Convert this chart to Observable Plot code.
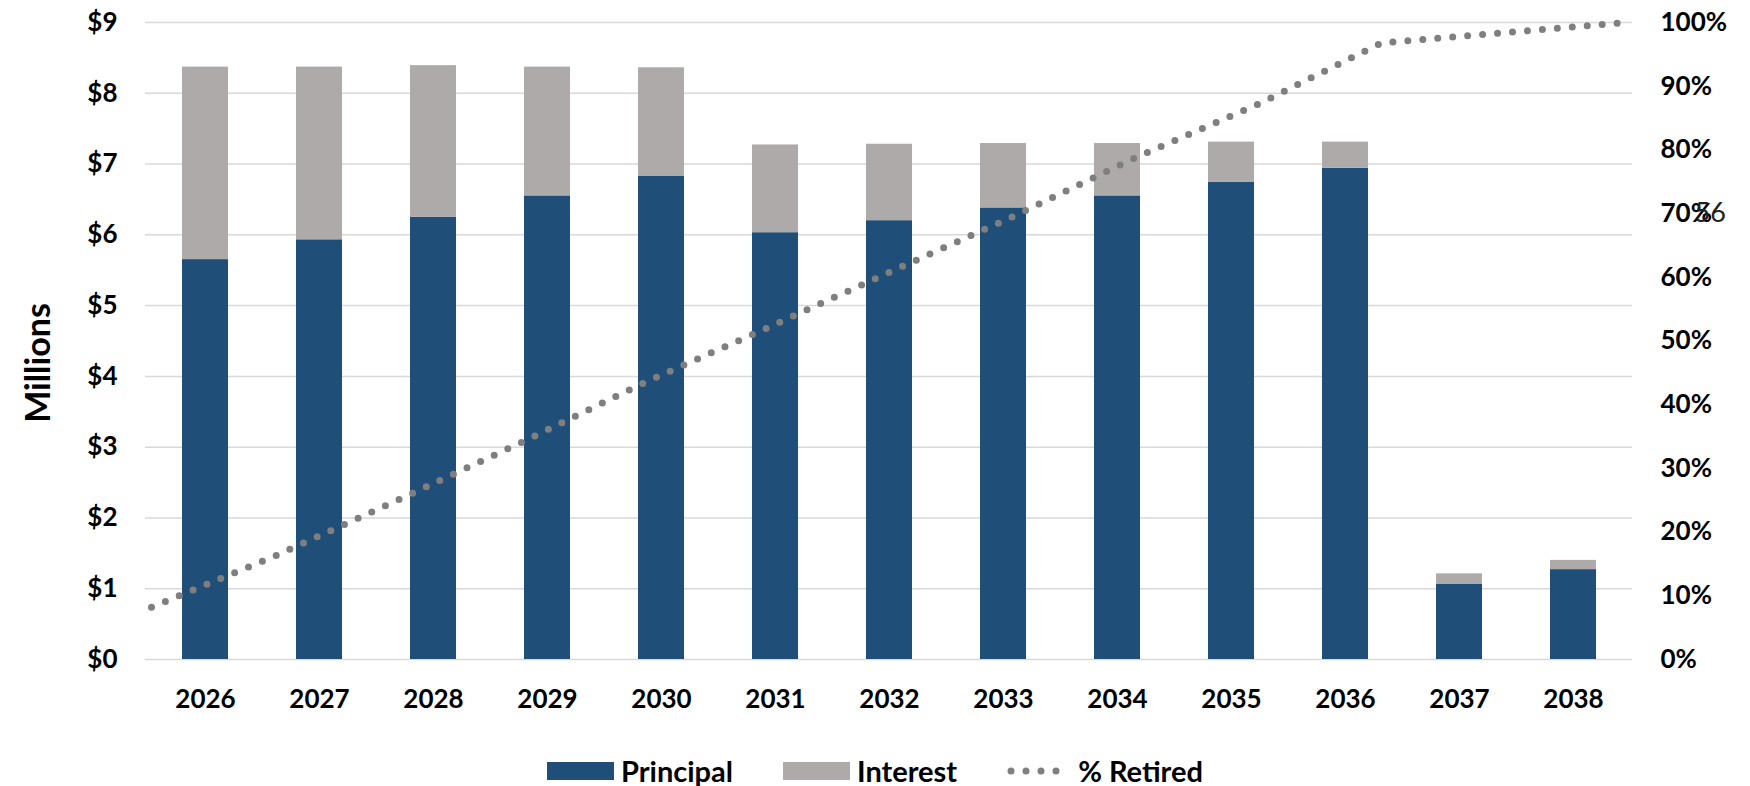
<!DOCTYPE html>
<html><head><meta charset="utf-8">
<script src="https://cdn.jsdelivr.net/npm/d3@7"></script>
<script src="https://cdn.jsdelivr.net/npm/@observablehq/plot@0.6"></script>
<style>
body{margin:0;background:#fff;font-family:Lato,"Open Sans",sans-serif;overflow:hidden;}
#wrap{position:relative;width:1750px;height:735px;}
#wrap svg{position:absolute;left:0;top:0;}
#legend{display:flex;justify-content:center;align-items:center;padding-top:20px;height:31px;width:1750px;font-weight:bold;font-size:29px;color:#000;}
#legend .item{display:flex;align-items:center;margin:0 25px;}
#legend .sw{display:inline-block;width:67px;height:18px;margin-right:7px;}
#legend svg{margin-right:4px;}
</style></head><body>
<div id="wrap"></div>
<div id="legend"></div>
<script>
// ---- data ----
const years = ["2026","2027","2028","2029","2030","2031","2032","2033","2034","2035","2036","2037","2038"];
const principal = [5.65, 5.93, 6.25, 6.55, 6.83, 6.03, 6.20, 6.38, 6.55, 6.74, 6.94, 1.06, 1.27];
const interest  = [2.72, 2.44, 2.14, 1.82, 1.53, 1.24, 1.08, 0.91, 0.74, 0.57, 0.37, 0.15, 0.13];
const retired   = [0.082, 0.162, 0.250, 0.340, 0.434, 0.520, 0.608, 0.695, 0.788, 0.872, 0.968, 0.984, 1.000];
const yTicks = [0, 1, 2, 3, 4, 5, 6, 7, 8, 9];
const pctTicks = [0, 0.1, 0.2, 0.3, 0.4, 0.5, 0.6, 0.7, 0.8, 0.9, 1.0];
const seriesNames = ["Principal", "Interest"];
const seriesColors = ["#1f4e79", "#aeaaaa"];
const lineName = "% Retired";
const lineColor = "#7f7f7f";
const yLabel = ["Millions"];
const strayNote = [{year: "2038", pct: 0.7, text: "56"}];

// ---- layout ----
const W = 1750, H = 735;
const M = {marginTop: 22, marginBottom: 76, marginLeft: 145, marginRight: 118};
const font = "Lato, 'Open Sans', sans-serif";

const barData = years.flatMap((y, i) => [
  {year: y, series: seriesNames[0], value: principal[i]},
  {year: y, series: seriesNames[1], value: interest[i]}
]);
const lineData = years.map((y, i) => ({year: y, pct: retired[i]}));

const bars = Plot.plot({
  width: W, height: H, ...M,
  style: {background: "transparent", fontFamily: font, color: "#000"},
  x: {type: "band", domain: years, paddingInner: 0.6, paddingOuter: 0.3},
  y: {domain: [0, 9]},
  color: {domain: seriesNames, range: seriesColors},
  marks: [
    Plot.gridY(yTicks, {stroke: "#d9d9d9", strokeOpacity: 1, strokeWidth: 1.5}),
    Plot.barY(barData, {x: "year", y: "value", fill: "series", order: seriesNames}),
    Plot.axisY(yTicks, {tickSize: 0, tickPadding: 28, tickFormat: d => "$" + d, fontSize: 26, fontWeight: "bold", label: null}),
    Plot.axisX({tickSize: 0, tickPadding: 30, fontSize: 26, fontWeight: "bold", label: null}),
    Plot.text(yLabel, {text: d => d, frameAnchor: "left", textAnchor: "middle", dx: -106, dy: 22, rotate: -90, fontSize: 34, fontWeight: "bold", fill: "#000"})
  ]
});

const line = Plot.plot({
  width: W, height: H, ...M,
  style: {background: "transparent", fontFamily: font, color: "#000", pointerEvents: "none"},
  x: {type: "point", domain: years, padding: 0, axis: null},
  y: {domain: [0, 1]},
  marks: [
    Plot.line(lineData, {x: "year", y: "pct", stroke: lineColor, strokeWidth: 7, strokeDasharray: "0 15", strokeLinecap: "round"}),
    Plot.axisY(pctTicks, {anchor: "right", tickSize: 0, tickPadding: 28, tickFormat: d3.format(".0%"), fontSize: 26, fontWeight: "bold", label: null}),
    Plot.text(strayNote, {x: "year", y: "pct", text: "text", dx: 67, textAnchor: "start", fontSize: 27, fill: "#222"})
  ]
});

const wrap = document.getElementById("wrap");
wrap.appendChild(bars);
wrap.appendChild(line);

// ---- legend ----
const legend = document.getElementById("legend");
seriesNames.forEach((name, i) => {
  const item = document.createElement("div");
  item.className = "item";
  const sw = document.createElement("span");
  sw.className = "sw";
  sw.style.background = seriesColors[i];
  item.appendChild(sw);
  item.appendChild(document.createTextNode(name));
  legend.appendChild(item);
});
{
  const item = document.createElement("div");
  item.className = "item";
  const ns = "http://www.w3.org/2000/svg";
  const svg = document.createElementNS(ns, "svg");
  svg.setAttribute("width", 67); svg.setAttribute("height", 18);
  const l = document.createElementNS(ns, "line");
  l.setAttribute("x1", 4); l.setAttribute("x2", 64); l.setAttribute("y1", 9); l.setAttribute("y2", 9);
  l.setAttribute("stroke", lineColor); l.setAttribute("stroke-width", 7);
  l.setAttribute("stroke-dasharray", "0 15"); l.setAttribute("stroke-linecap", "round");
  svg.appendChild(l);
  item.appendChild(svg);
  item.appendChild(document.createTextNode(lineName));
  legend.appendChild(item);
}
</script>
</body></html>
